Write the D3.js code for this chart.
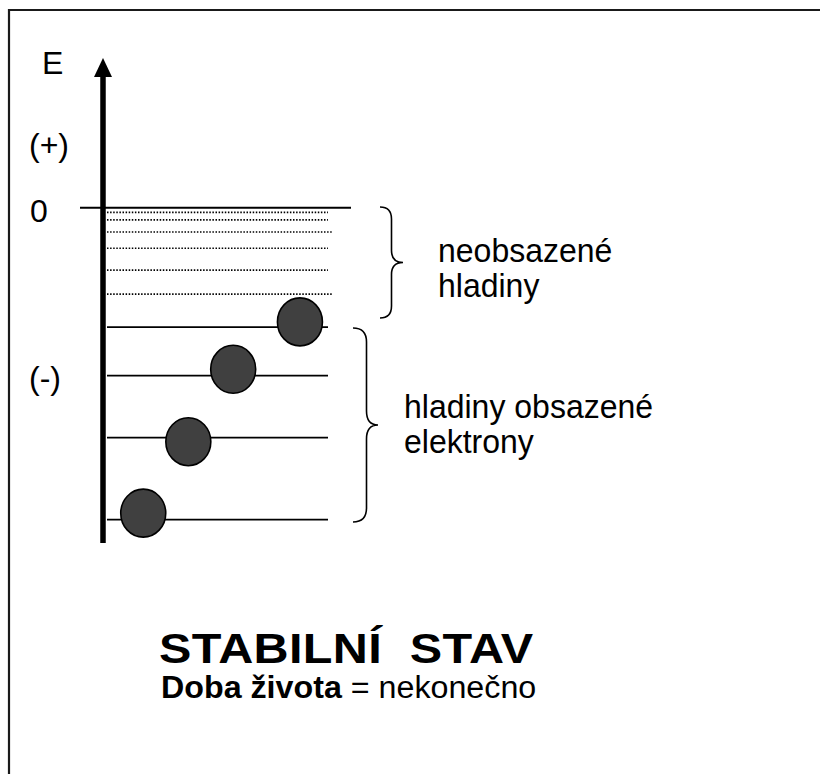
<!DOCTYPE html>
<html>
<head>
<meta charset="utf-8">
<script src="https://cdn.jsdelivr.net/npm/d3@7"></script>
<style>
  html, body { margin: 0; padding: 0; background: #ffffff; }
  svg { display: block; }
  text { font-family: "Liberation Sans", Arial, Helvetica, sans-serif; fill: #000; }
</style>
</head>
<body>
<svg id="chart" width="820" height="774"></svg>
<script>
// ---- data (energy in arbitrary units, 0 = ionisation level; position along level 0..100) ----
const emptyLevels = [-1.5, -3.9, -7.8, -13.0, -20.0, -27.7];
const emptyLevelEnds = [100, 100, 102.3, 100, 100, 102.3];
const occupiedLevels = [-38.3, -53.8, -73.7, -100];
const electronPos = [87.3, 57.1, 36.8, 16.4];
const electronEnergy = [-36.6, -51.8, -75.0, -97.9];
const axisLabels = [
  { text: "E", energy: 42.8 },
  { text: "(+)", energy: 16.7 },
  { text: "0", energy: -4.5 },
  { text: "(-)", energy: -58.2 }
];
const braceLabels = [
  ["neobsazené", "hladiny"],
  ["hladiny obsazené", "elektrony"]
];
const title = "STABILNÍ  STAV";
const subtitleBold = "Doba života";
const subtitleRest = " = nekonečno";

// ---- scales ----
const y = d3.scaleLinear().domain([0, -100]).range([207.7, 519.7]);
const x = d3.scaleLinear().domain([0, 100]).range([107, 328]);

const svg = d3.select("#chart");

// frame
svg.append("line").attr("x1", 9).attr("x2", 9).attr("y1", 9).attr("y2", 774)
  .attr("stroke", "#1a1a1a").attr("stroke-width", 2.2);
svg.append("line").attr("x1", 8).attr("x2", 820).attr("y1", 10).attr("y2", 10)
  .attr("stroke", "#1a1a1a").attr("stroke-width", 2.2);

// zero line
svg.append("line")
  .attr("x1", 80).attr("x2", 351)
  .attr("y1", y(0)).attr("y2", y(0))
  .attr("stroke", "#000").attr("stroke-width", 2);

// empty (dotted) levels
svg.append("g").selectAll("line").data(emptyLevels).join("line")
  .attr("x1", x(0)).attr("x2", (d, i) => x(emptyLevelEnds[i]))
  .attr("y1", d => y(d)).attr("y2", d => y(d))
  .attr("stroke", "#000").attr("stroke-width", 1.6)
  .attr("stroke-dasharray", "1.5,1.6");

// occupied levels
svg.append("g").selectAll("line").data(occupiedLevels).join("line")
  .attr("x1", x(0)).attr("x2", x(100))
  .attr("y1", d => y(d)).attr("y2", d => y(d))
  .attr("stroke", "#000").attr("stroke-width", 1.8);

// axis
const axisX = 103;
svg.append("line")
  .attr("x1", axisX).attr("x2", axisX)
  .attr("y1", 74).attr("y2", 543)
  .attr("stroke", "#000").attr("stroke-width", 5.5);
svg.append("path")
  .attr("d", `M${axisX},58 L${axisX + 9},77 L${axisX - 9},77 Z`)
  .attr("fill", "#000");

// electrons
svg.append("g").selectAll("ellipse").data(electronPos).join("ellipse")
  .attr("cx", d => x(d))
  .attr("cy", (d, i) => y(electronEnergy[i]))
  .attr("rx", 22.5).attr("ry", 24)
  .attr("fill", "#404040").attr("stroke", "#000").attr("stroke-width", 1.6);

// axis labels
svg.append("g").selectAll("text").data(axisLabels).join("text")
  .attr("x", d => d.text === "E" ? 42 : (d.text === "0" ? 30 : 29))
  .attr("y", d => y(d.energy))
  .attr("font-size", 32)
  .text(d => d.text);

// braces
function brace(x0, xv, xt, y0, y1, r) {
  const ym = (y0 + y1) / 2;
  return `M${x0},${y0} Q${xv},${y0} ${xv},${y0 + r} L${xv},${ym - r} Q${xv},${ym} ${xt},${ym}` +
         ` Q${xv},${ym} ${xv},${ym + r} L${xv},${y1 - r} Q${xv},${y1} ${x0},${y1}`;
}
const braces = [
  { x0: 380, xv: 391.5, xt: 403, top: 207, bottom: 318, r: 12 },
  { x0: 353, xv: 366.5, xt: 378, top: 328, bottom: 522, r: 14 }
];
svg.append("g").selectAll("path").data(braces).join("path")
  .attr("d", d => brace(d.x0, d.xv, d.xt, d.top, d.bottom, d.r))
  .attr("fill", "none").attr("stroke", "#000").attr("stroke-width", 1.6);

// brace labels
const labelPos = [{ x: 438, y: 262 }, { x: 404, y: 418 }];
braceLabels.forEach((lines, i) => {
  const t = svg.append("text")
    .attr("transform", `translate(${labelPos[i].x},${labelPos[i].y}) scale(0.97,1)`)
    .attr("font-size", 33);
  lines.forEach((l, j) => {
    t.append("tspan").attr("x", 0).attr("dy", j === 0 ? 0 : 35).text(l);
  });
});

// title
svg.append("text")
  .attr("transform", "translate(159,663) scale(1.13,1)")
  .attr("font-size", 43).attr("font-weight", "bold")
  .attr("letter-spacing", 0.3)
  .style("white-space", "pre")
  .text(title);

const sub = svg.append("text")
  .attr("transform", "translate(161,698) scale(1.04,1)")
  .attr("font-size", 31)
  .style("white-space", "pre");
sub.append("tspan").attr("font-weight", "bold").text(subtitleBold);
sub.append("tspan").text(subtitleRest);
</script>
</body>
</html>
